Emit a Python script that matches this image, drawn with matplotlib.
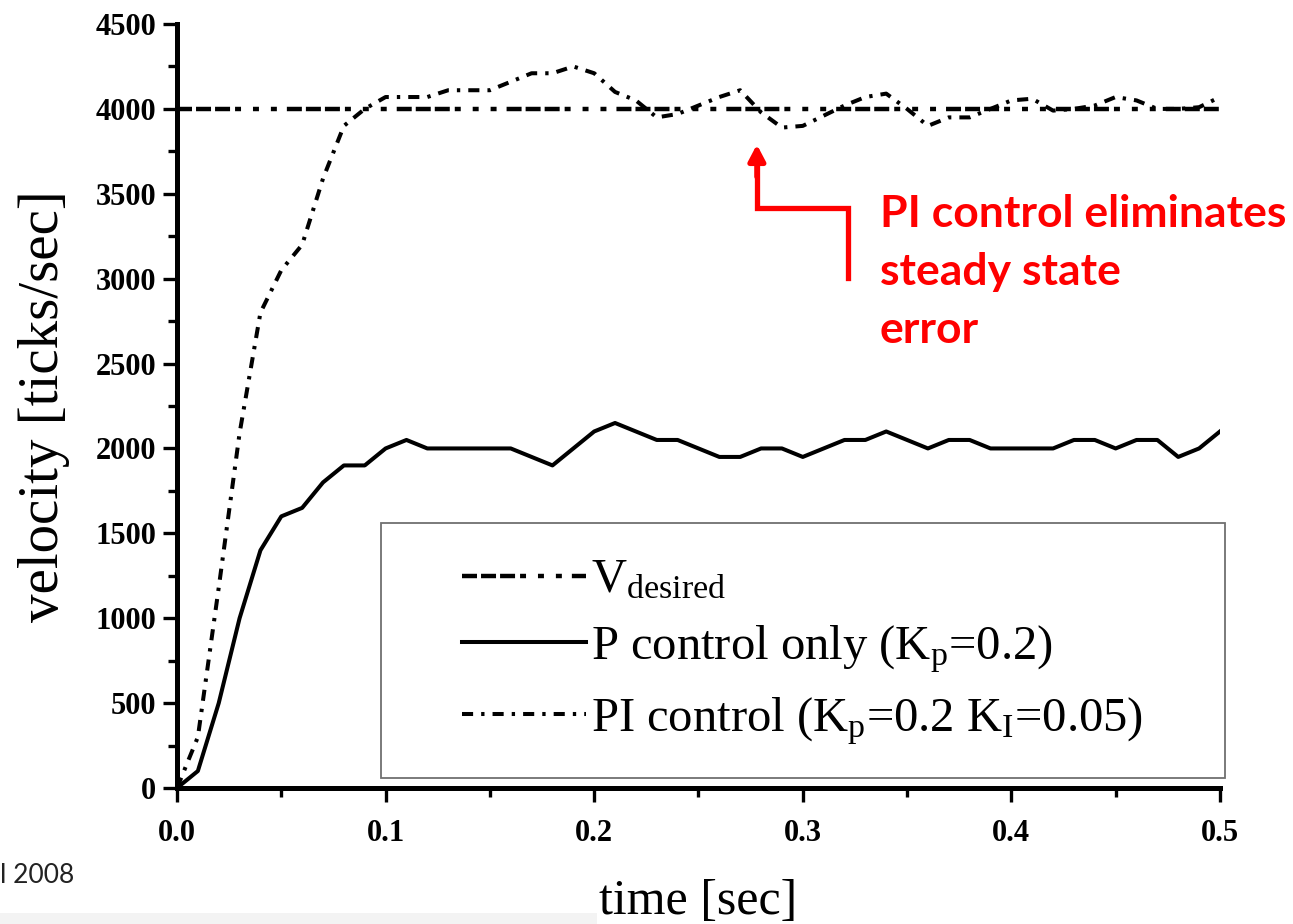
import matplotlib
matplotlib.use("Agg")
import matplotlib.pyplot as plt
from matplotlib.patches import Rectangle
from matplotlib.ticker import MultipleLocator

plt.rcParams['lines.scale_dashes'] = False
plt.rcParams['mathtext.fontset'] = 'custom'
plt.rcParams['mathtext.rm'] = 'Liberation Serif'
plt.rcParams['mathtext.it'] = 'Liberation Serif:italic'

# sample times [sec]
time = [0.00, 0.01, 0.02, 0.03, 0.04, 0.05, 0.06, 0.07, 0.08, 0.09,
        0.10, 0.11, 0.12, 0.13, 0.14, 0.15, 0.16, 0.17, 0.18, 0.19,
        0.20, 0.21, 0.22, 0.23, 0.24, 0.25, 0.26, 0.27, 0.28, 0.29,
        0.30, 0.31, 0.32, 0.33, 0.34, 0.35, 0.36, 0.37, 0.38, 0.39,
        0.40, 0.41, 0.42, 0.43, 0.44, 0.45, 0.46, 0.47, 0.48, 0.49,
        0.50]

v_desired = 4000

p_only = [0, 100, 500, 1000, 1400, 1600, 1650, 1800, 1900, 1900,
          2000, 2050, 2000, 2000, 2000, 2000, 2000, 1950, 1900, 2000,
          2100, 2150, 2100, 2050, 2050, 2000, 1950, 1950, 2000, 2000,
          1950, 2000, 2050, 2050, 2100, 2050, 2000, 2050, 2050, 2000,
          2000, 2000, 2000, 2050, 2050, 2000, 2050, 2050, 1950, 2000,
          2100]

pi_ctrl = [0, 300, 1180, 2090, 2800, 3050, 3200, 3590, 3900, 4000,
           4070, 4070, 4070, 4110, 4110, 4110, 4160, 4210, 4210, 4250,
           4210, 4100, 4050, 3950, 3970, 4020, 4070, 4110, 3980, 3890,
           3900, 3960, 4020, 4070, 4090, 4000, 3900, 3950, 3950, 4000,
           4050, 4060, 3990, 4000, 4020, 4070, 4050, 4000, 4000, 4010,
           4070]

labels = ['V$_{\\mathrm{desired}}$',
          'P control only (K$_{\\mathrm{p}}$=0.2)',
          'PI control (K$_{\\mathrm{p}}$=0.2 K$_{\\mathrm{I}}$=0.05)']

fig = plt.figure(figsize=(12.93, 9.24), dpi=100)
ax = fig.add_axes([0.1369, 0.1472, 0.8066, 0.8268])

ax.plot([time[0], time[-1]], [v_desired, v_desired], color='black', lw=3.2,
        dashes=(10.8, 2.9, 10.8, 2.9, 10.8, 3.6, 4.3, 8.6, 4.3, 8.6, 4.3, 7.2),
        label=labels[0])
ax.plot(time, p_only, color='black', lw=2.9, label=labels[1])
ax.plot(time, pi_ctrl, color='black', lw=2.9, dashes=(8, 5.8, 2.4, 5.8),
        label=labels[2])

ax.set_xlim(0, 0.5)
ax.set_ylim(0, 4500)
ax.xaxis.set_major_locator(MultipleLocator(0.1))
ax.xaxis.set_minor_locator(MultipleLocator(0.05))
ax.yaxis.set_major_locator(MultipleLocator(500))
ax.yaxis.set_minor_locator(MultipleLocator(250))
ax.xaxis.set_major_formatter(matplotlib.ticker.FormatStrFormatter('%.1f'))

for s in ['top', 'right']:
    ax.spines[s].set_visible(False)
for s in ['left', 'bottom']:
    ax.spines[s].set_linewidth(3.6)

ax.tick_params(which='major', direction='out', length=10, width=2.4, pad=5)
ax.tick_params(which='minor', direction='out', length=6.5, width=2.4)
ax.tick_params(axis='x', which='major', pad=12)
for lab in ax.get_xticklabels() + ax.get_yticklabels():
    lab.set_fontfamily('Liberation Serif')
    lab.set_fontweight('bold')
    lab.set_fontsize(22)

ax.set_xlabel('time [sec]', family='Liberation Serif', fontsize=36, labelpad=22)
ax.set_ylabel('velocity [ticks/sec]', family='Liberation Serif', fontsize=41, labelpad=18)

# legend box
ax.add_patch(Rectangle((0.196, 0.013), 0.809, 0.334, transform=ax.transAxes,
                       fill=False, ec='#707070', lw=1.3, clip_on=False, zorder=5))
leg = ax.legend(loc='upper left', bbox_to_anchor=(0.273, 0.300), frameon=False,
                prop={'family': 'Liberation Serif', 'size': 35},
                handlelength=2.55, handletextpad=0.1, labelspacing=0.42,
                borderpad=0, borderaxespad=0)

# red annotation arrow
red = '#ff0000'
ax.plot([0.3217, 0.3217, 0.278, 0.278], [3004, 3418, 3418, 3650],
        color=red, lw=3.8, solid_joinstyle='miter', clip_on=False)
ax.annotate('', xy=(0.278, 3790), xytext=(0.278, 3600),
            arrowprops=dict(arrowstyle='-|>,head_length=0.95,head_width=0.5',
                            color=red, lw=3.8, shrinkA=0, shrinkB=0))
ax.text(0.337, 3500, 'PI control eliminates\nsteady state\nerror', color=red,
        family='Lato', fontweight='bold', fontsize=32, va='top', ha='left',
        linespacing=1.55)

fig.text(0.0, 0.053, 'l 2008', family='Lato', fontsize=19, color='#222222',
         ha='left', va='center')
fig.patches.append(Rectangle((0, 0), 0.462, 0.012, transform=fig.transFigure,
                             fc='#f3f3f3', ec='none'))

fig.savefig('out.png', dpi=100)
